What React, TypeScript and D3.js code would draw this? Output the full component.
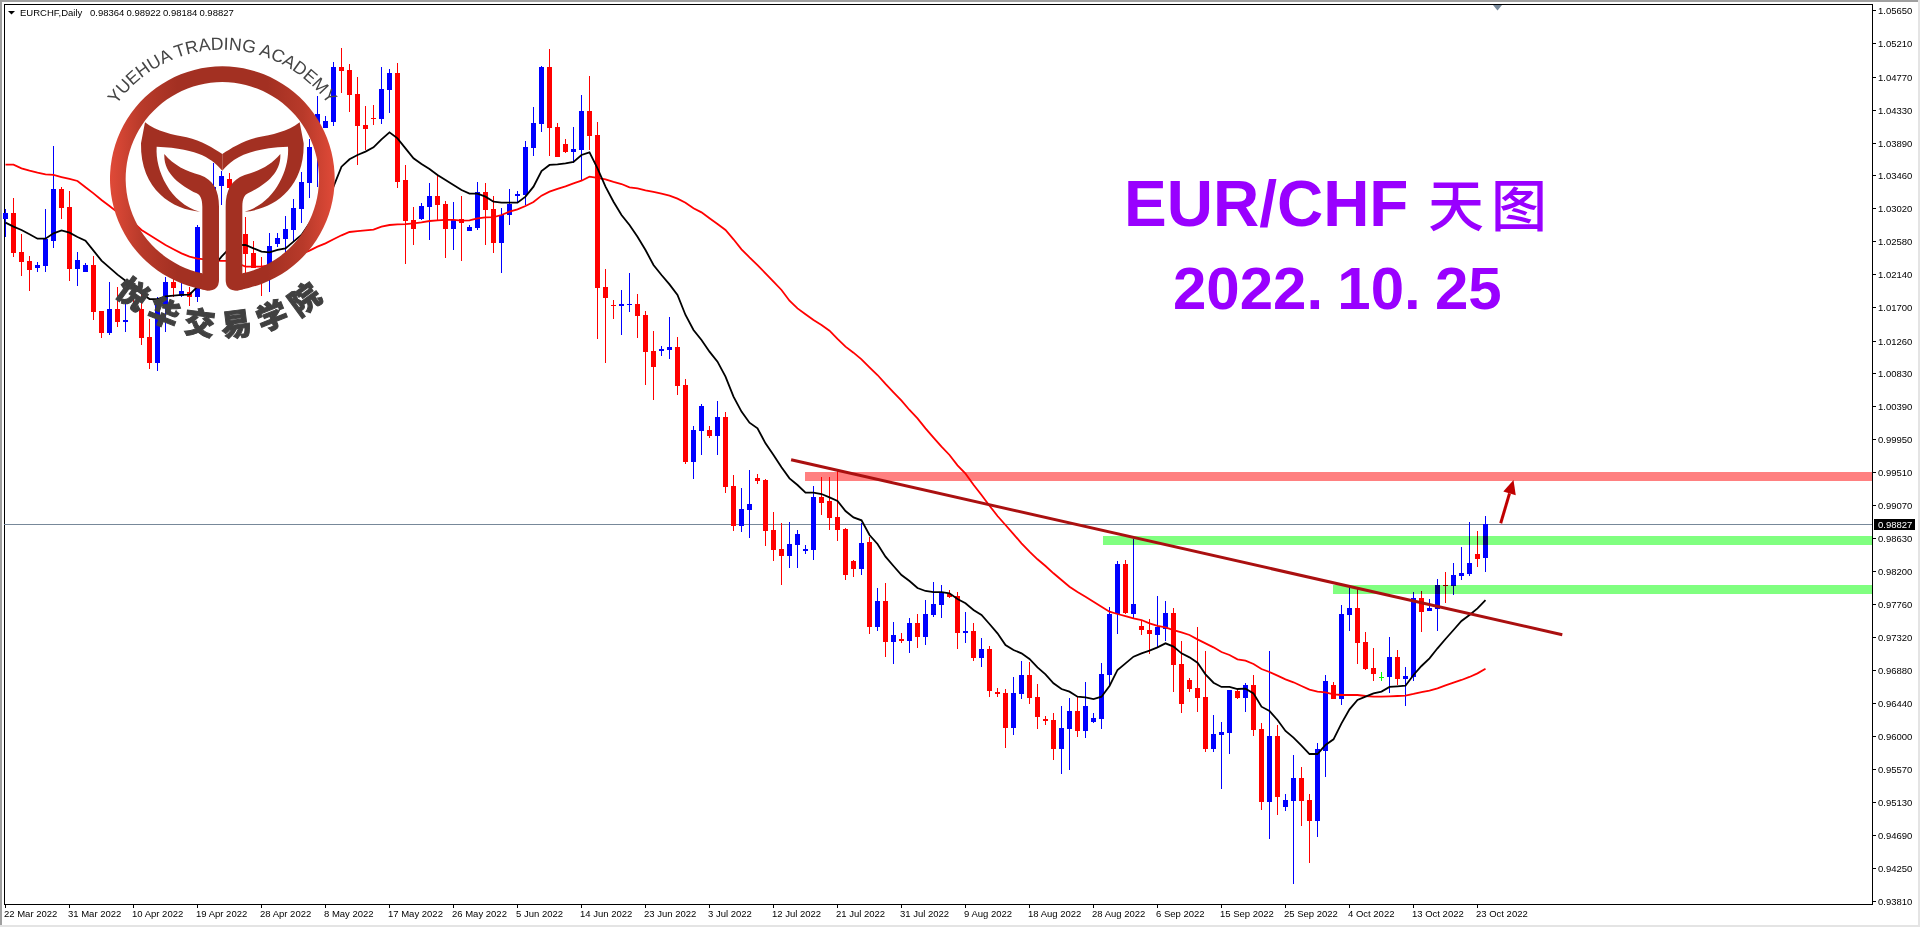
import React from 'react';
import * as d3 from 'd3';

// prices are kept in 1/100000 (points)
const opens = [
  102876,102951,102433,102318,102224,102256,102588,103275,103031,102216,
  102176,102264,101653,101365,101679,101511,101733,101679,101307,100957,
  101746,102038,101857,101910,101843,102774,103018,103319,103408,103292,
  102676,102424,102229,102176,102543,102610,102730,103009,103354,103833,
  104085,104165,104896,104856,104537,104125,104218,104205,104591,104817,
  103394,102863,102876,103035,103182,103075,102743,102876,102716,102756,
  103235,103009,102557,102929,103182,103195,103820,104139,104896,104099,
  103873,103766,103793,104311,103992,101972,101733,101719,101733,101746,
  101600,101121,101121,101134,101174,100669,99650,100058,100071,99991,
  100244,99327,98795,99007,99433,99406,98742,98489,98396,98542,
  98462,98476,99180,99127,98914,98755,98330,98223,98582,97452,
  97798,97253,97293,97266,97505,97319,97612,97745,97891,97864,
  97372,97399,97040,97160,96588,96575,96110,96562,96814,96522,
  96229,96216,95830,96096,96336,96070,96189,96229,96814,97625,
  98290,97625,97466,97412,97346,97426,97638,96960,96748,96641,
  96522,95830,96017,96043,96601,96508,96681,96096,95126,96003,
  95059,95139,95445,95153,94873,95804,96681,96495,97612,97705,
  97253,96907,96792,96788,97053,96761,96788,97838,97665,97691,
  98011,97997,98130,98157,98423,98364,
];
const highs = [
  103004,103151,102672,102384,102309,103004,103846,103297,103248,102433,
  102287,102388,101657,102034,101967,101786,101888,101888,101542,101843,
  102109,102109,102021,101976,102790,103084,103616,103514,103483,103372,
  102898,102583,102375,102685,102685,102916,103142,103496,103935,104511,
  104245,104963,105145,104932,104759,104378,104391,104892,104870,104950,
  103594,103035,103084,103350,103461,103115,103102,103182,102796,103368,
  103354,103182,103018,103275,103248,103913,104365,104910,105136,104152,
  103939,104099,104524,104777,104165,102211,101799,101932,102158,101879,
  101653,101387,101188,101573,101307,100749,100124,100417,100124,100456,
  100310,99473,99300,99539,99486,99415,98981,98830,98848,98742,
  98542,99327,99451,99451,99526,98768,98345,98830,98653,97971,
  98037,97519,97372,97572,97625,97811,98050,98011,97944,97917,
  97652,97505,97306,97200,96641,96628,96788,97000,96987,96694,
  96269,96309,96402,96508,96522,96721,96309,96974,97718,98330,
  98343,98622,97532,97559,97864,97798,97705,97266,96774,97452,
  97133,96282,96189,96615,96615,96708,96814,96176,97133,96149,
  95232,95751,95591,95232,95910,96814,96721,97745,97997,97957,
  97386,97173,96854,97319,97146,96920,97917,97931,97824,98090,
  98183,98303,98516,98848,98728,98922,
];
const lows = [
  102632,102366,102118,101923,102176,102176,102495,102876,102056,101990,
  102176,101533,101298,101334,101445,101378,101644,101201,100877,100860,
  101378,101843,101843,101724,101777,102685,102951,103062,103173,102597,
  102154,102220,101857,101910,102508,102442,102575,102827,103159,103306,
  104081,104112,104546,104303,103594,103793,104125,104139,104280,103292,
  102278,102530,102863,102597,102863,102357,102464,102318,102716,102730,
  102530,102424,102158,102796,103102,103062,103713,104032,103713,103700,
  103753,103616,103394,103793,101281,100962,101547,101334,101640,101294,
  100669,100470,101055,101015,100536,99619,99420,99739,99965,99739,
  99229,98733,98719,98635,99353,98529,98330,98011,98236,98236,
  98423,98343,98941,98742,98595,98077,98117,98143,97359,97399,
  97053,96960,97240,97107,97173,97213,97585,97572,97838,97160,
  97240,97000,96920,96522,96522,95844,96017,96495,96429,96096,
  96149,95684,95498,95551,95990,95977,96176,96096,96668,97359,
  97625,97572,97346,97093,97191,97266,96588,96309,96588,96322,
  95791,95791,95299,95764,96495,96322,96003,95020,94634,94953,
  95006,94036,94807,94315,94661,95458,96495,96415,97399,96960,
  96881,96734,96734,96575,96681,96402,96734,97386,97665,97399,
  97771,97878,98077,98130,98250,98184,
];
const closes = [
  102951,102428,102309,102202,102264,102606,103275,103026,102216,102326,
  102264,101644,101365,101679,101511,101533,101666,101298,100957,101746,
  102038,101963,101919,101843,102774,103018,103306,103447,103292,102676,
  102411,102229,102176,102517,102623,102743,103022,103368,103833,104272,
  104179,104896,104843,104524,104112,104072,104205,104604,104817,103368,
  102849,102743,103049,103182,103062,102743,102863,102823,102769,103230,
  102995,102557,102929,103075,103208,103833,104152,104896,104085,103700,
  103766,103806,104311,103979,101959,101826,101719,101746,101746,101586,
  101108,100909,101148,101174,100656,99650,100071,100390,99991,100244,
  99318,98795,99021,99087,99393,98728,98476,98396,98556,98688,
  98489,99180,99101,98901,98742,98143,98223,98569,97452,97798,
  97253,97346,97266,97505,97319,97625,97758,97904,97851,97372,
  97399,97040,97160,96601,96562,96110,96575,96814,96508,96256,
  96203,95830,96110,96336,96070,96402,96243,96827,97625,98290,
  97638,97758,97412,97359,97457,97638,96947,96429,96628,96508,
  95830,96030,96056,96615,96508,96681,96083,95126,96003,95192,
  95153,95445,95139,94873,95830,96734,96495,97625,97705,97240,
  96894,96827,96792,97053,96761,96801,97838,97652,97705,98011,
  97997,98143,98170,98303,98356,98827,
];
const fastMa = [
  102827,102774,102730,102672,102614,102614,102685,102725,102694,102637,
  102588,102455,102322,102229,102136,102056,101998,101888,101812,101812,
  101848,101857,101866,101870,101976,102065,102242,102375,102486,102530,
  102530,102486,102442,102433,102464,102486,102575,102663,102818,102951,
  103084,103306,103571,103669,103727,103771,103828,103935,104028,103948,
  103815,103682,103607,103540,103461,103394,103328,103261,103213,103213,
  103173,103106,103093,103093,103093,103173,103306,103514,103594,103602,
  103616,103634,103727,103762,103549,103306,103106,102929,102796,102641,
  102464,102264,102131,102007,101866,101600,101400,101267,101112,100979,
  100780,100514,100315,100168,100093,99894,99739,99575,99428,99340,
  99238,99238,99220,99176,99127,98994,98910,98870,98675,98556,
  98387,98263,98143,98064,97971,97931,97917,97917,97900,97824,
  97767,97678,97612,97492,97368,97213,97146,97102,97027,96916,
  96823,96703,96628,96593,96526,96517,96495,96526,96668,96881,
  96969,97058,97102,97138,97182,97235,97191,97102,97049,96978,
  96823,96712,96655,96655,96628,96632,96570,96393,96336,96216,
  96070,95981,95875,95764,95764,95884,95959,96172,96358,96482,
  96526,96570,96593,96655,96663,96672,96814,96934,97036,97169,
  97293,97412,97532,97612,97700,97811,
];
const slowMa = [
  103598,103598,103549,103518,103492,103470,103461,103434,103408,103381,
  103297,103217,103128,103049,102964,102907,102827,102730,102663,102597,
  102530,102473,102419,102375,102349,102340,102322,102318,102318,102287,
  102242,102242,102242,102264,102309,102340,102375,102411,102455,102508,
  102552,102606,102659,102703,102716,102725,102734,102774,102796,102805,
  102809,102818,102832,102849,102858,102863,102863,102854,102858,102885,
  102898,102902,102929,102973,103004,103049,103102,103186,103239,103275,
  103310,103350,103385,103439,103421,103403,103368,103341,103297,103283,
  103257,103235,103213,103186,103146,103093,103018,102964,102885,102809,
  102730,102606,102473,102366,102264,102154,102043,101932,101790,101688,
  101609,101533,101467,101391,101281,101179,101099,101010,100904,100802,
  100683,100572,100461,100337,100226,100093,99969,99849,99739,99601,
  99490,99344,99207,99065,98928,98808,98688,98564,98454,98352,
  98263,98166,98077,97988,97917,97855,97789,97722,97656,97625,
  97598,97567,97545,97501,97466,97448,97412,97381,97346,97288,
  97235,97182,97120,97080,97022,97005,96960,96894,96854,96805,
  96757,96717,96668,96619,96593,96584,96557,96548,96548,96548,
  96535,96526,96526,96531,96535,96539,96562,96588,96606,96637,
  96677,96712,96748,96788,96836,96898,
];

const priceTicks = [
  '1.05650','1.05210','1.04770','1.04330','1.03890','1.03460','1.03020','1.02580','1.02140','1.01700',
  '1.01260','1.00830','1.00390','0.99950','0.99510','0.99070','0.98630','0.98200','0.97760','0.97320',
  '0.96880','0.96440','0.96000','0.95570','0.95130','0.94690','0.94250','0.93810',
];
const dateTicks = [
  '22 Mar 2022','31 Mar 2022','10 Apr 2022','19 Apr 2022','28 Apr 2022','8 May 2022','17 May 2022','26 May 2022',
  '5 Jun 2022','14 Jun 2022','23 Jun 2022','3 Jul 2022','12 Jul 2022','21 Jul 2022','31 Jul 2022','9 Aug 2022',
  '18 Aug 2022','28 Aug 2022','6 Sep 2022','15 Sep 2022','25 Sep 2022','4 Oct 2022','13 Oct 2022','23 Oct 2022',
];
const dateTickStep = 8;

const lastPrice = 98827;
const resistanceZone = { fromBar: 100, top: 99513, bottom: 99393 };
const supportZones = [
  { fromBar: 137.25, top: 98662, bottom: 98542 },
  { fromBar: 166, top: 98011, bottom: 97891 },
];
const trendLine: [number, number][] = [[98.2, 99676], [194.6, 97350]];
const upArrow: [number, number][] = [[186.9, 98831], [188.5, 99406]];

const WIDTH = 1920;
const HEIGHT = 927;
const PLOT_LEFT = 4;
const PLOT_TOP = 4;
const PLOT_RIGHT = 1872;
const PLOT_BOTTOM = 904;
const AXIS_FONT = '"Liberation Sans", Arial, sans-serif';

const xScale = d3.scaleLinear().domain([0, 185]).range([5, 1485]);
const yScale = d3.scaleLinear().domain([93770, 105787]).range([PLOT_BOTTOM, 0]);

const barX = (bar: number) => xScale(bar) + 0.5;

const lineOf = (values: number[]) =>
  d3.line<number>().x((_, i) => barX(i)).y(d => yScale(d))(values) ?? '';

const candleColor = (open: number, close: number) =>
  open === close ? '#00ff00' : close > open ? '#0000ff' : '#ff0000';

const Candles = () => (
  <g shapeRendering="crispEdges">
    {opens.map((open, i) => {
      const close = closes[i];
      const color = candleColor(open, close);
      const top = Math.round(yScale(Math.max(open, close)));
      const bottom = Math.round(yScale(Math.min(open, close)));
      const high = Math.round(yScale(highs[i]));
      const low = Math.round(yScale(lows[i]));
      return (
        <g key={i} fill={color}>
          <rect x={xScale(i)} y={high} width={1} height={Math.max(1, low - high)} />
          <rect x={xScale(i) - 2} y={top} width={5} height={Math.max(1, bottom - top)} />
        </g>
      );
    })}
  </g>
);

const Zone = ({ zone, color }: { zone: { fromBar: number; top: number; bottom: number }; color: string }) => (
  <rect
    x={xScale(zone.fromBar)}
    y={yScale(zone.top)}
    width={PLOT_RIGHT - xScale(zone.fromBar)}
    height={yScale(zone.bottom) - yScale(zone.top)}
    fill={color}
    shapeRendering="crispEdges"
    style={{ mixBlendMode: 'multiply' }}
  />
);

const Arrow = () => {
  const [x0, y0] = [barX(upArrow[0][0]), yScale(upArrow[0][1])];
  const [x1, y1] = [barX(upArrow[1][0]), yScale(upArrow[1][1])];
  const angle = Math.atan2(y1 - y0, x1 - x0);
  const headLength = 14;
  const halfHead = 6.5;
  const bx = x1 - headLength * Math.cos(angle);
  const by = y1 - headLength * Math.sin(angle);
  const nx = -Math.sin(angle) * halfHead;
  const ny = Math.cos(angle) * halfHead;
  return (
    <g>
      <line x1={x0} y1={y0} x2={bx} y2={by} stroke="#c00000" strokeWidth={3} />
      <path d={`M${x1},${y1}L${bx + nx},${by + ny}L${bx - nx},${by - ny}Z`} fill="#c00000" />
    </g>
  );
};

// the logo is drawn in 3x units around its own centre
const Logo = () => {
  const lobe =
    'M435 367C470 395 520 405 560 412C605 422 640 445 667 462L667 512C640 480 600 445 470 440C465 510 510 610 600 635C520 630 420 570 423 430Z';
  const stem =
    'M493 462C520 495 560 515 600 525C640 540 657 570 657 620L657 840Q657 872 622 872L600 866L607 820L607 620C607 595 600 585 590 580C540 555 490 520 493 462Z';
  return (
    <g transform="scale(0.33333)">
      <defs>
        <linearGradient id="logoRed" gradientUnits="userSpaceOnUse" x1="330" y1="0" x2="1004" y2="0">
          <stop offset="0" stopColor="#e04a38" />
          <stop offset="0.14" stopColor="#b83a2a" />
          <stop offset="0.3" stopColor="#a33022" />
          <stop offset="0.7" stopColor="#a33022" />
          <stop offset="0.86" stopColor="#b83a2a" />
          <stop offset="1" stopColor="#e04a38" />
        </linearGradient>
        <path id="logoTopArc" d="M279 537A388 388 0 0 1 1055 537" />
        <path id="logoBottomArc" d="M196 537A471 471 0 0 0 1138 537" />
      </defs>
      <path
        fill="url(#logoRed)"
        d="M630 871A337 337 0 1 1 704 871L727 820A290 290 0 1 0 607 820Z"
      />
      <path fill="#a33022" d={lobe} />
      <path fill="#a33022" d={stem} />
      <g transform="translate(1334,0) scale(-1,1)">
        <path fill="#a33022" d={lobe} />
        <path fill="#a33022" d={stem} />
      </g>
      <text fontFamily={AXIS_FONT} fontSize={53} fill="#454545" textAnchor="middle">
        <textPath href="#logoTopArc" startOffset="50%">YUEHUA TRADING ACADEMY</textPath>
      </text>
      <text
        fontFamily='"Noto Sans CJK SC", sans-serif'
        fontWeight={900}
        fontSize={92}
        letterSpacing={27}
        fill="#404040"
        stroke="#404040"
        strokeWidth={3}
        textAnchor="middle"
      >
        <textPath href="#logoBottomArc" startOffset="50%">悦华交易学院</textPath>
      </text>
    </g>
  );
};

const App = () => (
  <svg
    width={WIDTH}
    height={HEIGHT}
    viewBox={`0 0 ${WIDTH} ${HEIGHT}`}
    style={{ position: 'absolute', left: 0, top: 0, display: 'block', background: '#fff' }}
  >
    {/* window frame */}
    <g shapeRendering="crispEdges">
      <rect x={0} y={0} width={WIDTH} height={2} fill="#a0a0a0" />
      <rect x={0} y={0} width={2} height={926} fill="#a0a0a0" />
      <rect x={0} y={925} width={WIDTH} height={2} fill="#e4e4e4" />
      <rect x={1918} y={0} width={2} height={927} fill="#e4e4e4" />
      <rect x={PLOT_LEFT} y={PLOT_TOP} width={PLOT_RIGHT - PLOT_LEFT} height={1} fill="#000" />
      <rect x={PLOT_LEFT} y={PLOT_TOP} width={1} height={PLOT_BOTTOM - PLOT_TOP} fill="#000" />
      <rect x={PLOT_RIGHT} y={PLOT_TOP} width={1} height={PLOT_BOTTOM - PLOT_TOP + 1} fill="#000" />
      <rect x={PLOT_LEFT} y={PLOT_BOTTOM} width={PLOT_RIGHT - PLOT_LEFT} height={1} fill="#000" />
    </g>

    <line
      x1={PLOT_LEFT}
      x2={PLOT_RIGHT}
      y1={Math.round(yScale(lastPrice)) + 0.5}
      y2={Math.round(yScale(lastPrice)) + 0.5}
      stroke="#778899"
      shapeRendering="crispEdges"
    />

    <Candles />
    <path d={lineOf(slowMa)} fill="none" stroke="#ff0000" strokeWidth={1.8} />
    <path d={lineOf(fastMa)} fill="none" stroke="#000" strokeWidth={1.8} />

    <Zone zone={resistanceZone} color="#ff8080" />
    {supportZones.map((zone, i) => (
      <Zone key={i} zone={zone} color="#80ff80" />
    ))}

    <line
      x1={barX(trendLine[0][0])}
      y1={yScale(trendLine[0][1])}
      x2={barX(trendLine[1][0])}
      y2={yScale(trendLine[1][1])}
      stroke="#aa1010"
      strokeWidth={3}
    />
    <Arrow />

    {/* shift marker */}
    <path d="M1493,5L1502,5L1497.5,10.5Z" fill="#778899" />

    {/* price axis */}
    <g fontFamily={AXIS_FONT} fontSize={9.5} fill="#000">
      {priceTicks.map(t => {
        const y = Math.round(yScale(+t * 1e5));
        return (
          <g key={t}>
            <rect x={PLOT_RIGHT} y={y} width={4} height={1} shapeRendering="crispEdges" />
            <text x={1878} y={y + 4}>{t}</text>
          </g>
        );
      })}
      <rect x={1874} y={519} width={41} height={11} fill="#000" shapeRendering="crispEdges" />
      <text x={1878} y={528} fill="#fff">{(lastPrice / 1e5).toFixed(5)}</text>
    </g>

    {/* date axis */}
    <g fontFamily={AXIS_FONT} fontSize={9.5} fill="#000">
      {dateTicks.map((t, i) => {
        const x = xScale(i * dateTickStep);
        return (
          <g key={t}>
            <rect x={x} y={PLOT_BOTTOM} width={1} height={4} shapeRendering="crispEdges" />
            <text x={x - 1} y={917}>{t}</text>
          </g>
        );
      })}
    </g>

    {/* header */}
    <path d="M8,11L15,11L11.5,14.5Z" fill="#000" />
    <g fontFamily={AXIS_FONT} fontSize={9.5} fill="#000">
      <text x={20} y={16}>EURCHF,Daily</text>
      <text x={90} y={16} wordSpacing={-0.5}>0.98364 0.98922 0.98184 0.98827</text>
    </g>

    <Logo />

    {/* title */}
    <g fill="#9900ff">
      <text x={1124} y={226} fontFamily={AXIS_FONT} fontWeight={700} fontSize={64}>EUR/CHF</text>
      <text x={1428} y={226} fontFamily='"Noto Sans CJK SC", sans-serif' fontWeight={500} fontSize={56} letterSpacing={7}>天图</text>
      <text x={1173} y={309} fontFamily={AXIS_FONT} fontWeight={700} fontSize={60} wordSpacing={-2.5}>2022. 10. 25</text>
    </g>
  </svg>
);

export default App;
